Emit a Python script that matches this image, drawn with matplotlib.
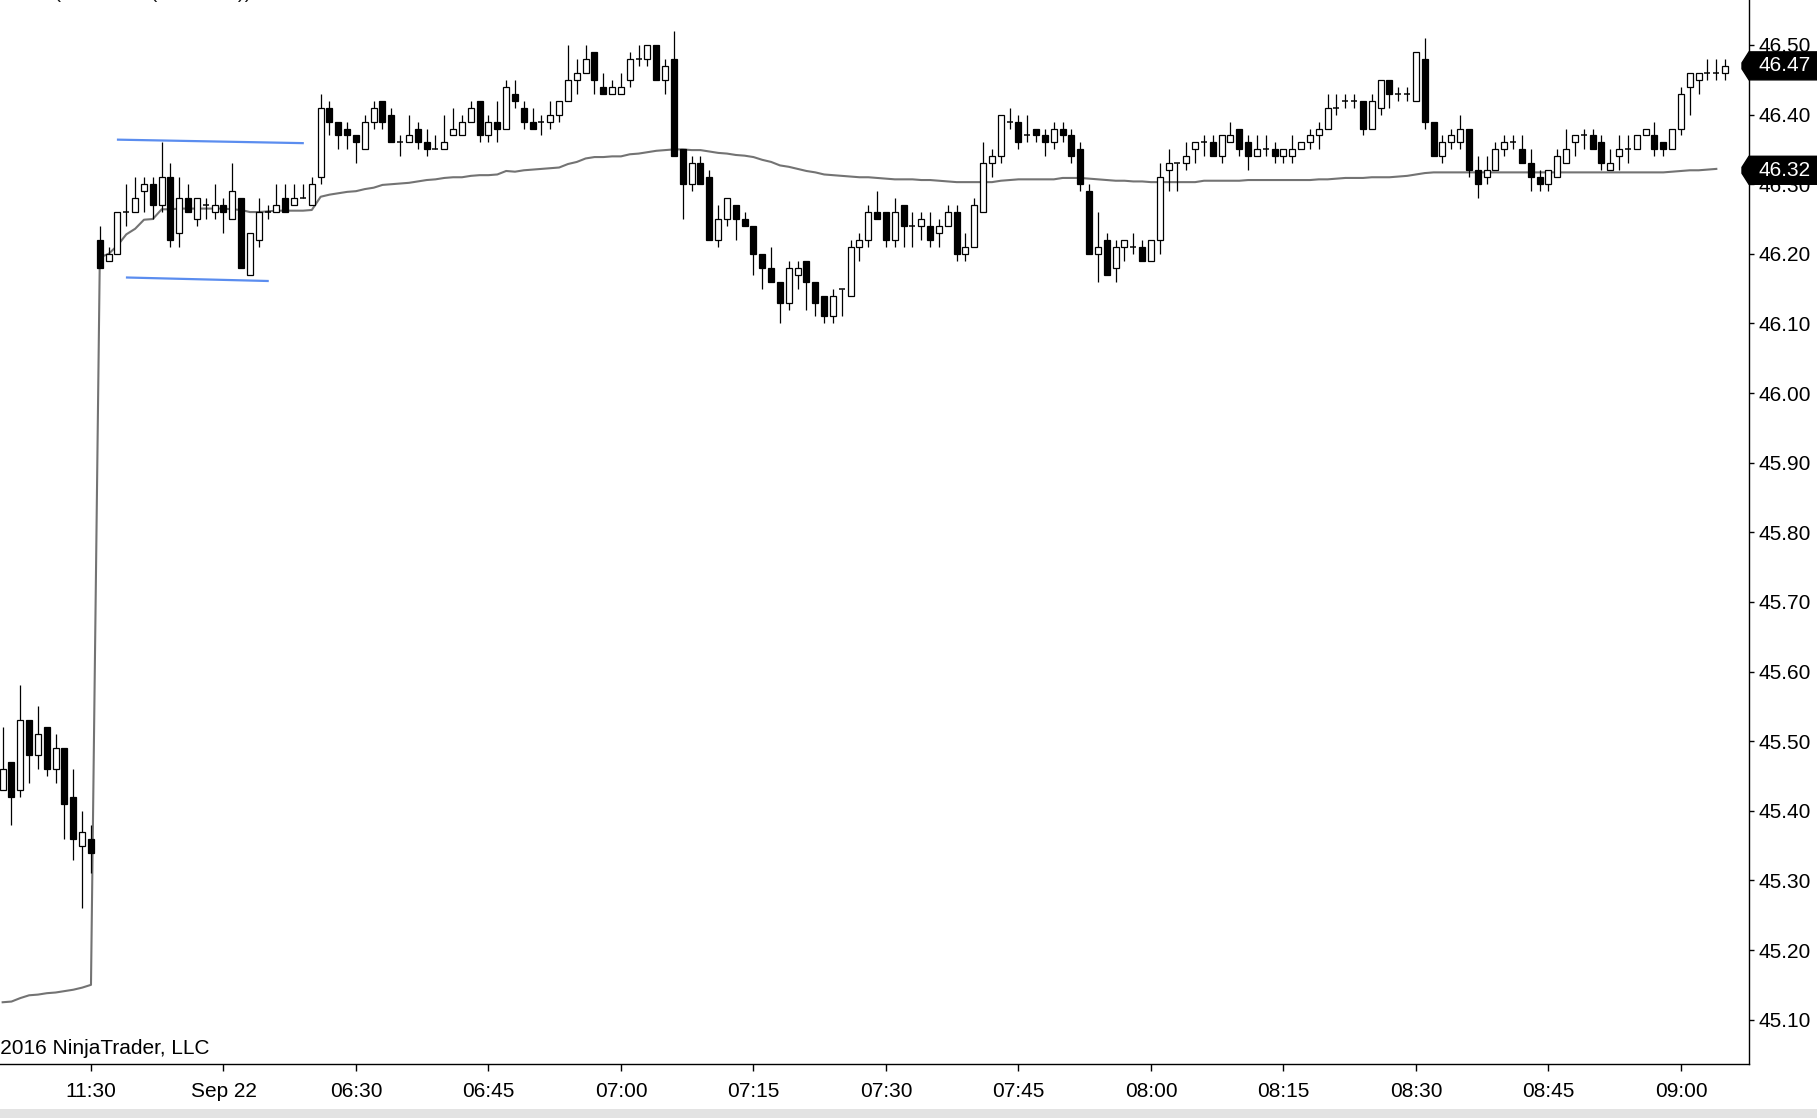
import matplotlib
matplotlib.use("Agg")
import matplotlib.pyplot as plt
import matplotlib.transforms as mtransforms
from matplotlib.patches import Polygon, Rectangle
import numpy as np

plt.rcParams['font.family'] = ['Liberation Sans', 'DejaVu Sans']

# ---------------- data ----------------
# previous session (last 11 one-minute bars, ending 11:30)
prev_open  = [45.43, 45.47, 45.43, 45.53, 45.48, 45.52, 45.46, 45.49, 45.42, 45.35, 45.36]
prev_high  = [45.52, 45.47, 45.58, 45.53, 45.55, 45.52, 45.51, 45.49, 45.46, 45.40, 45.38]
prev_low   = [45.43, 45.38, 45.42, 45.44, 45.46, 45.45, 45.44, 45.36, 45.33, 45.26, 45.31]
prev_close = [45.46, 45.42, 45.53, 45.48, 45.51, 45.46, 45.49, 45.41, 45.36, 45.37, 45.34]
prev_vwap  = [45.125, 45.126, 45.131, 45.135, 45.136, 45.138, 45.139, 45.141, 45.143, 45.146, 45.150]

# Sep 22 session, 1-minute bars 06:01 .. 09:05
sess_open = [
    46.22, 46.19, 46.20, 46.26, 46.26, 46.29, 46.30, 46.27, 46.31, 46.23,
    46.28, 46.25, 46.27, 46.26, 46.27, 46.25, 46.28, 46.17, 46.22, 46.26,
    46.26, 46.28, 46.27, 46.28, 46.27, 46.31, 46.41, 46.39, 46.38, 46.37,
    46.35, 46.39, 46.42, 46.40, 46.36, 46.36, 46.38, 46.36, 46.35, 46.35,
    46.37, 46.37, 46.39, 46.42, 46.37, 46.39, 46.38, 46.43, 46.41, 46.39,
    46.39, 46.39, 46.40, 46.42, 46.45, 46.46, 46.49, 46.44, 46.43, 46.43,
    46.45, 46.48, 46.48, 46.50, 46.45, 46.48, 46.35, 46.30, 46.33, 46.31,
    46.22, 46.25, 46.27, 46.25, 46.24, 46.20, 46.18, 46.16, 46.13, 46.17,
    46.19, 46.16, 46.14, 46.11, 46.15, 46.14, 46.21, 46.22, 46.26, 46.26,
    46.22, 46.27, 46.24, 46.24, 46.24, 46.23, 46.24, 46.26, 46.20, 46.21,
    46.26, 46.33, 46.34, 46.39, 46.39, 46.37, 46.38, 46.37, 46.36, 46.38,
    46.37, 46.35, 46.29, 46.20, 46.22, 46.18, 46.21, 46.21, 46.21, 46.19,
    46.22, 46.32, 46.33, 46.33, 46.35, 46.36, 46.36, 46.34, 46.36, 46.38,
    46.36, 46.34, 46.35, 46.35, 46.34, 46.34, 46.35, 46.36, 46.37, 46.38,
    46.41, 46.42, 46.42, 46.42, 46.38, 46.41, 46.45, 46.43, 46.43, 46.42,
    46.48, 46.39, 46.34, 46.36, 46.36, 46.38, 46.32, 46.31, 46.32, 46.35,
    46.36, 46.35, 46.33, 46.31, 46.30, 46.31, 46.33, 46.36, 46.37, 46.37,
    46.36, 46.32, 46.34, 46.35, 46.35, 46.37, 46.37, 46.36, 46.35, 46.38,
    46.44, 46.45, 46.46, 46.46, 46.46]
sess_high = [
    46.24, 46.21, 46.26, 46.30, 46.31, 46.31, 46.31, 46.36, 46.33, 46.31,
    46.30, 46.28, 46.28, 46.30, 46.28, 46.33, 46.28, 46.23, 46.28, 46.27,
    46.30, 46.30, 46.30, 46.30, 46.31, 46.43, 46.42, 46.39, 46.39, 46.37,
    46.40, 46.42, 46.42, 46.41, 46.37, 46.40, 46.39, 46.38, 46.37, 46.40,
    46.41, 46.40, 46.42, 46.42, 46.40, 46.42, 46.45, 46.45, 46.42, 46.41,
    46.40, 46.42, 46.42, 46.50, 46.48, 46.50, 46.49, 46.46, 46.45, 46.46,
    46.49, 46.50, 46.50, 46.50, 46.48, 46.52, 46.35, 46.34, 46.34, 46.32,
    46.27, 46.28, 46.27, 46.26, 46.24, 46.20, 46.21, 46.16, 46.19, 46.19,
    46.19, 46.16, 46.14, 46.15, 46.15, 46.22, 46.23, 46.27, 46.29, 46.26,
    46.28, 46.27, 46.26, 46.26, 46.26, 46.25, 46.27, 46.27, 46.23, 46.28,
    46.36, 46.35, 46.40, 46.41, 46.40, 46.40, 46.38, 46.38, 46.39, 46.39,
    46.38, 46.36, 46.30, 46.26, 46.23, 46.22, 46.22, 46.23, 46.22, 46.22,
    46.33, 46.35, 46.33, 46.36, 46.36, 46.37, 46.37, 46.37, 46.39, 46.38,
    46.37, 46.37, 46.37, 46.36, 46.35, 46.37, 46.36, 46.38, 46.39, 46.43,
    46.43, 46.43, 46.43, 46.42, 46.43, 46.45, 46.45, 46.44, 46.44, 46.49,
    46.51, 46.39, 46.37, 46.38, 46.40, 46.38, 46.34, 46.34, 46.36, 46.37,
    46.37, 46.37, 46.35, 46.32, 46.32, 46.35, 46.38, 46.37, 46.38, 46.38,
    46.37, 46.35, 46.37, 46.37, 46.37, 46.38, 46.39, 46.36, 46.38, 46.44,
    46.46, 46.46, 46.48, 46.48, 46.48]
sess_low = [
    46.18, 46.19, 46.20, 46.24, 46.26, 46.26, 46.25, 46.26, 46.21, 46.21,
    46.26, 46.24, 46.25, 46.25, 46.23, 46.25, 46.18, 46.17, 46.21, 46.25,
    46.26, 46.26, 46.27, 46.28, 46.27, 46.30, 46.37, 46.35, 46.35, 46.33,
    46.35, 46.38, 46.38, 46.36, 46.34, 46.36, 46.35, 46.34, 46.35, 46.35,
    46.37, 46.37, 46.39, 46.36, 46.36, 46.36, 46.38, 46.41, 46.38, 46.38,
    46.37, 46.38, 46.39, 46.42, 46.43, 46.46, 46.43, 46.43, 46.43, 46.43,
    46.44, 46.47, 46.47, 46.45, 46.43, 46.34, 46.25, 46.29, 46.30, 46.22,
    46.21, 46.24, 46.22, 46.24, 46.17, 46.15, 46.16, 46.10, 46.12, 46.15,
    46.12, 46.11, 46.10, 46.10, 46.11, 46.14, 46.19, 46.21, 46.25, 46.21,
    46.21, 46.21, 46.21, 46.22, 46.21, 46.21, 46.24, 46.19, 46.19, 46.21,
    46.26, 46.31, 46.33, 46.38, 46.35, 46.36, 46.36, 46.34, 46.35, 46.36,
    46.33, 46.29, 46.20, 46.16, 46.17, 46.16, 46.19, 46.20, 46.19, 46.19,
    46.20, 46.29, 46.29, 46.32, 46.33, 46.34, 46.34, 46.33, 46.36, 46.34,
    46.32, 46.34, 46.34, 46.33, 46.33, 46.33, 46.35, 46.35, 46.35, 46.38,
    46.40, 46.41, 46.41, 46.37, 46.38, 46.40, 46.41, 46.42, 46.42, 46.42,
    46.38, 46.34, 46.33, 46.35, 46.35, 46.31, 46.28, 46.30, 46.32, 46.34,
    46.35, 46.33, 46.29, 46.29, 46.29, 46.31, 46.33, 46.34, 46.35, 46.35,
    46.32, 46.32, 46.32, 46.33, 46.35, 46.37, 46.34, 46.34, 46.35, 46.37,
    46.40, 46.43, 46.45, 46.45, 46.45]
sess_close = [
    46.18, 46.20, 46.26, 46.26, 46.28, 46.30, 46.27, 46.31, 46.22, 46.28,
    46.26, 46.28, 46.27, 46.27, 46.26, 46.29, 46.18, 46.23, 46.26, 46.26,
    46.27, 46.26, 46.28, 46.28, 46.30, 46.41, 46.39, 46.37, 46.37, 46.36,
    46.39, 46.41, 46.39, 46.36, 46.36, 46.37, 46.36, 46.35, 46.35, 46.36,
    46.38, 46.39, 46.41, 46.37, 46.39, 46.38, 46.44, 46.42, 46.39, 46.38,
    46.39, 46.40, 46.42, 46.45, 46.46, 46.48, 46.45, 46.43, 46.44, 46.44,
    46.48, 46.48, 46.50, 46.45, 46.47, 46.34, 46.30, 46.33, 46.30, 46.22,
    46.25, 46.28, 46.25, 46.24, 46.20, 46.18, 46.16, 46.13, 46.18, 46.18,
    46.16, 46.13, 46.11, 46.14, 46.15, 46.21, 46.22, 46.26, 46.25, 46.22,
    46.26, 46.24, 46.24, 46.25, 46.22, 46.24, 46.26, 46.20, 46.21, 46.27,
    46.33, 46.34, 46.40, 46.39, 46.36, 46.37, 46.37, 46.36, 46.38, 46.37,
    46.34, 46.30, 46.20, 46.21, 46.17, 46.21, 46.22, 46.21, 46.19, 46.22,
    46.31, 46.33, 46.33, 46.34, 46.36, 46.36, 46.34, 46.37, 46.37, 46.35,
    46.34, 46.35, 46.35, 46.34, 46.35, 46.35, 46.36, 46.37, 46.38, 46.41,
    46.41, 46.42, 46.42, 46.38, 46.42, 46.45, 46.43, 46.43, 46.43, 46.49,
    46.39, 46.34, 46.36, 46.37, 46.38, 46.32, 46.30, 46.32, 46.35, 46.36,
    46.36, 46.33, 46.31, 46.30, 46.32, 46.34, 46.35, 46.37, 46.37, 46.35,
    46.33, 46.33, 46.35, 46.35, 46.37, 46.38, 46.35, 46.35, 46.38, 46.43,
    46.46, 46.46, 46.46, 46.46, 46.47]
sess_vwap = [
    46.195, 46.200, 46.212, 46.228, 46.236, 46.249, 46.250, 46.264, 46.264, 46.265,
    46.265, 46.265, 46.265, 46.265, 46.265, 46.264, 46.263, 46.260, 46.260, 46.261,
    46.262, 46.262, 46.262, 46.262, 46.263, 46.282, 46.285, 46.287, 46.289, 46.290,
    46.293, 46.295, 46.299, 46.300, 46.301, 46.302, 46.304, 46.306, 46.307, 46.309,
    46.310, 46.310, 46.312, 46.313, 46.313, 46.314, 46.319, 46.318, 46.320, 46.321,
    46.322, 46.323, 46.324, 46.329, 46.332, 46.337, 46.339, 46.339, 46.340, 46.340,
    46.343, 46.344, 46.346, 46.348, 46.349, 46.350, 46.350, 46.349, 46.349, 46.347,
    46.345, 46.344, 46.342, 46.341, 46.339, 46.335, 46.332, 46.327, 46.325, 46.322,
    46.319, 46.317, 46.314, 46.313, 46.312, 46.311, 46.310, 46.310, 46.309, 46.308,
    46.307, 46.307, 46.307, 46.306, 46.306, 46.305, 46.304, 46.303, 46.303, 46.303,
    46.303, 46.303, 46.305, 46.306, 46.307, 46.307, 46.307, 46.307, 46.307, 46.309,
    46.309, 46.309, 46.308, 46.307, 46.306, 46.305, 46.305, 46.304, 46.304, 46.303,
    46.303, 46.303, 46.303, 46.303, 46.303, 46.305, 46.305, 46.305, 46.305, 46.305,
    46.306, 46.306, 46.306, 46.306, 46.306, 46.306, 46.306, 46.306, 46.307, 46.307,
    46.308, 46.309, 46.309, 46.309, 46.310, 46.310, 46.310, 46.311, 46.312, 46.314,
    46.316, 46.317, 46.317, 46.317, 46.317, 46.317, 46.317, 46.317, 46.317, 46.317,
    46.317, 46.317, 46.317, 46.317, 46.317, 46.317, 46.317, 46.317, 46.317, 46.317,
    46.317, 46.317, 46.317, 46.317, 46.317, 46.317, 46.317, 46.317, 46.318, 46.319,
    46.320, 46.320, 46.321, 46.322, np.nan]

# x-axis labels (every 15 bars)
tick_bars   = [10, 25, 40, 55, 70, 85, 100, 115, 130, 145, 160, 175, 190]
tick_labels = ["11:30", "Sep 22", "06:30", "06:45", "07:00", "07:15", "07:30",
               "07:45", "08:00", "08:15", "08:30", "08:45", "09:00"]
price_ticks = [45.10, 45.20, 45.30, 45.40, 45.50, 45.60, 45.70, 45.80,
               45.90, 46.00, 46.10, 46.20, 46.30, 46.40, 46.50]

# drawn range lines (bar index, price)
upper_line_x = [13.06, 33.97]
upper_line_y = [46.364, 46.359]
lower_line_x = [14.08, 30.00]
lower_line_y = [46.166, 46.161]

last_price = 46.47
vwap_last = 46.32

# ---------------- figure ----------------
opens = np.array(prev_open + sess_open)
highs = np.array(prev_high + sess_high)
lows = np.array(prev_low + sess_low)
closes = np.array(prev_close + sess_close)
vwap = np.array(prev_vwap + sess_vwap)
xs = np.arange(len(opens))

W, H = 1817, 1118
AX_R = 1749
fig = plt.figure(figsize=(W / 100, H / 100), dpi=100)
fig.patch.set_facecolor("white")
ax = fig.add_axes([0, 54 / H, AX_R / W, 1064 / H])
ax.set_facecolor("white")

ymax = 46.5646
ymin = ymax - 1064 / 696.2
ax.set_ylim(ymin, ymax)
ax.set_xlim(-0.3, 197.7)

# VWAP line (behind candles)
ax.plot(xs, vwap, color="#737373", lw=1.5, zorder=1, solid_joinstyle="round")

# candles
bw = 0.68
lw = 0.9
ax.vlines(xs, lows, highs, color="black", lw=lw, zorder=2)
for x, o, h, l, c in zip(xs, opens, highs, lows, closes):
    if abs(c - o) < 1e-9:
        ax.hlines(o, x - bw / 2, x + bw / 2, color="black", lw=lw * 1.2, zorder=3)
    else:
        fc = "white" if c > o else "black"
        ax.bar(x, abs(c - o), bottom=min(o, c), width=bw, color=fc,
               edgecolor="black", linewidth=lw, zorder=3)

# blue drawn lines
ax.plot(upper_line_x, upper_line_y, color="#5b8def", lw=1.6, zorder=4)
ax.plot(lower_line_x, lower_line_y, color="#5b8def", lw=1.6, zorder=4)

# axes styling
for s in ["left", "top"]:
    ax.spines[s].set_visible(False)
for s in ["right", "bottom"]:
    ax.spines[s].set_color("black")
    ax.spines[s].set_linewidth(1.0)

FS = 15
ax.yaxis.tick_right()
ax.set_yticks(price_ticks)
ax.set_yticklabels([f"{v:.2f}" for v in price_ticks])
ax.tick_params(axis="y", which="both", direction="out", length=3.5, width=1,
               pad=3.5, labelsize=FS, colors="black", left=False)
ax.set_xticks(tick_bars)
ax.set_xticklabels(tick_labels)
ax.tick_params(axis="x", direction="out", length=5, width=1, pad=8,
               labelsize=FS, colors="black")

# price tags on the right axis
trans = mtransforms.blended_transform_factory(fig.transFigure, ax.transData)
half = 14 / 696.2
tip = 3 / 696.2
for val in [last_price, vwap_last]:
    pts = [(1742 / W, val + tip), (1749 / W, val + half), (1.0, val + half),
           (1.0, val - half), (1749 / W, val - half), (1742 / W, val - tip)]
    poly = Polygon(pts, closed=True, transform=trans, facecolor="black",
                   edgecolor="black", clip_on=False, zorder=10)
    ax.add_patch(poly)
    ax.text(1758 / W, val, f"{val:.2f}", transform=trans, color="white",
            fontsize=FS, va="center", ha="left", zorder=11, clip_on=False)

# texts
fig.text(-12 / W, 1 + 2 / H, "VWAP (CL 11-16 (1 Minute))", fontsize=FS,
         color="#1a1a1a", va="baseline", ha="left")
fig.text(-21 / W, (H - 1054) / H, "\u00a9 2016 NinjaTrader, LLC", fontsize=FS,
         color="black", va="baseline", ha="left")

# scrollbar strip at the bottom
fig.patches.append(Rectangle((0, 0), 1, 9 / H, transform=fig.transFigure,
                             facecolor="#e3e3e3", edgecolor="none", zorder=0))

fig.savefig("out.png", dpi=100)
